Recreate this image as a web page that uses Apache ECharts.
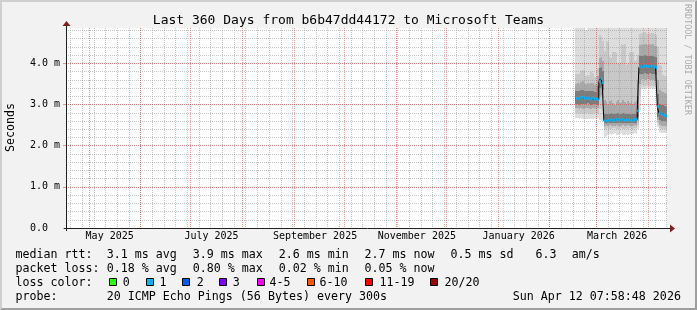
<!DOCTYPE html>
<html>
<head>
<meta charset="utf-8">
<script src="https://cdn.jsdelivr.net/npm/echarts@6/dist/echarts.min.js"></script>
<style>
html,body{margin:0;padding:0;background:#f2f2f2;}
#chart{width:697px;height:310px;}
</style>
</head>
<body>
<div id="chart"></div>
<script>
// ---------- data (one consolidated sample per day, centred at 12:00 UTC) ----------
const dates = [
 '2026-02-16','2026-02-17','2026-02-18','2026-02-19','2026-02-20','2026-02-21','2026-02-22',
 '2026-02-23','2026-02-24','2026-02-25','2026-02-26','2026-02-27','2026-02-28',
 '2026-03-01','2026-03-02','2026-03-03','2026-03-04','2026-03-05','2026-03-06','2026-03-07',
 '2026-03-08','2026-03-09','2026-03-10','2026-03-11','2026-03-12','2026-03-13','2026-03-14',
 '2026-03-15','2026-03-16','2026-03-17','2026-03-18','2026-03-19','2026-03-20','2026-03-21',
 '2026-03-22','2026-03-23','2026-03-24','2026-03-25','2026-03-26','2026-03-27','2026-03-28',
 '2026-03-29','2026-03-30','2026-03-31',
 '2026-04-01','2026-04-02','2026-04-03','2026-04-04','2026-04-05','2026-04-06','2026-04-07',
 '2026-04-08','2026-04-09','2026-04-10','2026-04-11'
];
// median rtt, ms
const median = [
 3.15,3.14,3.15,3.17,3.18,3.16,3.15,3.16,3.15,3.14,3.15,3.13,3.14,3.12,
 3.56,3.63,3.53,
 2.61,2.60,2.61,2.62,2.63,2.62,2.62,2.64,2.63,2.62,2.63,2.64,2.62,2.63,2.62,2.63,2.62,2.62,2.63,2.64,
 2.85,
 3.91,3.93,3.92,3.94,3.93,3.92,3.93,3.92,3.93,3.91,3.90,
 2.95,2.79,2.78,2.76,2.74,2.72
];
// smoke: slowest / fastest ping, ms
const maxPing = [
 5.62,5.18,6.05,5.40,5.95,5.22,4.81,5.36,5.71,5.08,5.49,5.87,5.13,5.66,
 6.20,5.92,5.55,
 5.34,5.78,6.12,5.47,5.25,5.90,5.61,5.38,6.03,5.19,5.72,5.44,5.85,5.28,5.97,5.53,5.16,5.69,5.41,5.82,
 5.95,
 6.15,5.58,5.31,5.89,5.46,6.02,5.24,5.77,5.39,5.93,5.65,
 5.74,5.12,5.36,5.05,4.98,5.21
];
const minPing = [
 2.67,2.67,2.66,2.67,2.64,2.64,2.65,2.65,2.66,2.64,2.65,2.67,2.66,2.68,
 2.62,2.60,2.58,
 2.22,2.24,2.27,2.29,2.26,2.28,2.30,2.27,2.25,2.28,2.30,2.27,2.26,2.29,2.27,2.28,2.26,2.29,2.30,2.28,
 2.40,
 2.87,3.38,3.40,3.37,3.39,3.40,3.38,3.39,3.37,3.39,3.36,
 2.46,2.33,2.31,2.30,2.32,2.34
];
// inner smoke bands, ms
const band2Hi = [
 3.74,3.74,3.75,3.82,3.83,3.81,3.70,3.71,3.69,3.78,3.77,3.66,3.67,3.90,
 4.70,4.65,4.55,
 4.30,4.55,4.52,4.15,4.13,4.27,4.28,4.25,3.98,3.99,4.47,4.45,4.48,3.97,3.99,4.27,4.26,4.28,4.07,4.08,
 4.20,
 4.72,4.75,4.73,4.76,4.74,4.72,4.75,4.73,4.74,4.71,4.70,
 4.40,3.95,3.93,3.72,3.70,3.68
];
const band2Lo = [
 2.79,2.80,2.78,2.79,2.77,2.78,2.79,2.80,2.78,2.77,2.79,2.80,2.79,2.80,
 2.90,2.88,2.85,
 2.40,2.41,2.42,2.40,2.41,2.42,2.43,2.41,2.40,2.42,2.43,2.41,2.40,2.42,2.41,2.42,2.40,2.41,2.43,2.42,
 2.50,
 3.20,3.46,3.47,3.45,3.46,3.47,3.45,3.46,3.44,3.45,3.43,
 2.55,2.42,2.41,2.40,2.41,2.42
];
const band3Hi = [
 3.50,3.52,3.51,3.55,3.56,3.53,3.50,3.52,3.51,3.53,3.52,3.48,3.49,3.70,
 4.12,4.15,4.05,
 3.10,3.05,3.02,3.08,3.12,3.04,3.00,3.06,3.10,3.03,3.07,3.12,3.05,3.01,3.08,3.04,3.09,3.02,3.06,3.10,
 3.60,
 4.45,4.47,4.44,4.48,4.46,4.45,4.47,4.44,4.46,4.43,4.42,
 3.60,3.35,3.33,3.30,3.28,3.26
];
const band3Lo = [
 2.91,2.92,2.90,2.91,2.89,2.90,2.91,2.92,2.90,2.89,2.91,2.92,2.90,2.92,
 3.20,3.22,3.15,
 2.48,2.48,2.49,2.50,2.49,2.48,2.49,2.50,2.49,2.48,2.49,2.50,2.48,2.49,2.50,2.49,2.48,2.49,2.50,2.49,
 2.60,
 3.50,3.60,3.61,3.59,3.60,3.61,3.60,3.59,3.60,3.58,3.57,
 2.62,2.50,2.49,2.48,2.48,2.47
];
const band4Hi = [
 3.32,3.33,3.32,3.35,3.36,3.34,3.32,3.33,3.32,3.33,3.33,3.30,3.31,3.45,
 3.88,3.92,3.82,
 2.78,2.76,2.77,2.78,2.79,2.77,2.76,2.78,2.79,2.77,2.78,2.79,2.77,2.76,2.78,2.77,2.78,2.76,2.77,2.79,
 3.20,
 4.17,4.19,4.18,4.20,4.19,4.18,4.19,4.17,4.18,4.16,4.15,
 3.25,3.02,3.00,2.98,2.96,2.94
];
const band4Lo = [
 3.01,3.02,3.00,3.02,3.01,3.00,3.02,3.03,3.01,3.00,3.02,3.01,3.01,3.00,
 3.40,3.42,3.35,
 2.54,2.53,2.54,2.55,2.55,2.54,2.55,2.56,2.55,2.54,2.55,2.56,2.54,2.55,2.54,2.55,2.54,2.55,2.55,2.56,
 2.70,
 3.75,3.75,3.74,3.76,3.75,3.74,3.76,3.75,3.74,3.75,3.73,
 2.70,2.62,2.61,2.60,2.59,2.58
];
// axis ticks / labels
const yTicks = [0, 1, 2, 3, 4];
const xLabels = ['May 2025', 'July 2025', 'September 2025', 'November 2025', 'January 2026', 'March 2026'];
const xLabelMonths = [[2025, 4], [2025, 6], [2025, 8], [2025, 10], [2026, 0], [2026, 2]];
// text
const titleText = 'Last 360 Days from b6b47dd44172 to Microsoft Teams';
const legendRtt = ['median rtt:', '3.1 ms avg', '3.9 ms max', '2.6 ms min', '2.7 ms now', '0.5 ms sd', '6.3', 'am/s'];
const legendLoss = ['packet loss:', '0.18 % avg', '0.80 % max', '0.02 % min', '0.05 % now'];
const legendColorTitle = 'loss color:';
const legendProbe = ['probe:', '20 ICMP Echo Pings (56 Bytes) every 300s'];
const lossLabels = ['0', '1', '2', '3', '4-5', '6-10', '11-19', '20/20'];
const lossColors = ['#26ff00', '#00b8ff', '#0059ff', '#7e00ff', '#ff00ff', '#ff5500', '#ff0000', '#a10000'];
const stampText = 'Sun Apr 12 07:58:48 2026';

// ---------- layout / style ----------
const W = 697, H = 310;
const GL = 66, GT = 28, GW = 601, GH = 200;
const GR = GL + GW, GB = GT + GH;
const DAY = 86400000;
const endTime = Date.UTC(2026, 3, 12, 7, 58, 48);
const startTime = endTime - 360 * DAY;
const yMax = 4.86;
const MONO = "'DejaVu Sans Mono', monospace";
const FONT_L = "11.65px 'DejaVu Sans Mono', monospace";
const bandColors = ['#dddddd', '#c8c8c8', '#a9a9a9', '#7c7c7c'];
const colX = [15.4, 106.7, 192.7, 278.7, 364.4, 450.4, 535.4, 571.7];
const rowY = [254.5, 268.5, 282.5, 296.5];
const boxX = [109, 146, 182, 219, 257, 307, 365, 430];
const boxLabelX = [122.7, 159.4, 196.7, 232.7, 269.4, 319.4, 379.4, 444.4];
const stampX = 512.7;

const times = dates.map(d => Date.parse(d + 'T12:00:00Z'));
const tEnd = times.map((t, i) => i + 1 < times.length ? times[i + 1] : endTime);

// grid positions
const weekTicks = [];
for (let t = Date.UTC(2025, 3, 20); t <= endTime; t += 7 * DAY) weekTicks.push(t);
const monthTicks = [];
for (let m = 0; m < 12; m++) monthTicks.push(Date.UTC(2025, 4 + m, 1));
const labelPos = xLabelMonths.map(([y, m]) => Date.UTC(y, m, 1) + 12.5 * DAY);
const minorY = [];
for (let i = 1; i <= 24; i++) minorY.push(Math.round(i * 2) / 10);

function bandData(lo, hi) { return times.map((t, i) => [t, tEnd[i], lo[i], hi[i]]); }
function bandRender(color) {
  return function (params, api) {
    const a = api.coord([api.value(0), api.value(3)]);
    const b = api.coord([api.value(1), api.value(2)]);
    const cs = params.coordSys;
    const x0 = Math.round(a[0]), x1 = Math.round(b[0]);
    const top = Math.max(Math.round(a[1]), cs.y);
    const bottom = Math.min(Math.round(b[1]), cs.y + cs.height);
    if (bottom <= top || x1 <= x0) return null;
    return { type: 'rect', shape: { x: x0, y: top, width: x1 - x0, height: bottom - top }, style: { fill: color } };
  };
}
const bands = [[minPing, maxPing], [band2Lo, band2Hi], [band3Lo, band3Hi], [band4Lo, band4Hi]];
const series = bands.map((b, i) => ({
  type: 'custom', silent: true, z: 1,
  xAxisIndex: 0, yAxisIndex: 0,
  encode: { x: [0, 1], y: [2, 3] },
  renderItem: bandRender(bandColors[i]),
  data: bandData(b[0], b[1])
}));
series.push({
  type: 'line', silent: true, z: 5, step: 'end', symbol: 'none',
  xAxisIndex: 0, yAxisIndex: 0,
  lineStyle: { color: '#000000', width: 1 },
  data: times.map((t, i) => [t, median[i]]).concat([[endTime, median[median.length - 1]]])
});
series.push({
  type: 'custom', silent: true, z: 6,
  xAxisIndex: 0, yAxisIndex: 0,
  encode: { x: [0, 1], y: 2 },
  renderItem: function (params, api) {
    const a = api.coord([api.value(0), api.value(2)]);
    const b = api.coord([api.value(1), api.value(2)]);
    return { type: 'line', shape: { x1: a[0], y1: a[1], x2: b[0], y2: b[1] }, style: { stroke: '#00b8ff', lineWidth: 2.5 } };
  },
  data: times.map((t, i) => [t, tEnd[i], median[i]])
});

// ---------- decorations ----------
const g = [];
g.push({ type: 'polygon', silent: true, z: 20, shape: { points: [[0, 0], [W, 0], [W - 2, 2], [2, 2], [2, H - 2], [0, H]] }, style: { fill: '#cfcfcf' } });
g.push({ type: 'polygon', silent: true, z: 20, shape: { points: [[W, 0], [W, H], [0, H], [2, H - 2], [W - 2, H - 2], [W - 2, 2]] }, style: { fill: '#9e9e9e' } });
g.push({ type: 'line', silent: true, z: 20, shape: { x1: GL - 2, y1: GB + 0.5, x2: GR + 4, y2: GB + 0.5 }, style: { stroke: '#1f1f1f', lineWidth: 1 } });
g.push({ type: 'line', silent: true, z: 20, shape: { x1: GL + 0.5, y1: GB + 3, x2: GL + 0.5, y2: GT - 2 }, style: { stroke: '#1f1f1f', lineWidth: 1 } });
g.push({ type: 'polygon', silent: true, z: 21, shape: { points: [[GR + 3, GB - 3.5], [GR + 8, GB + 0.5], [GR + 3, GB + 4.5]] }, style: { fill: '#801f1f' } });
g.push({ type: 'polygon', silent: true, z: 21, shape: { points: [[GL - 3.5, GT - 2], [GL + 0.5, GT - 7], [GL + 4.5, GT - 2]] }, style: { fill: '#801f1f' } });
g.push({ type: 'text', silent: true, z: 20, x: 687.5, y: 4, rotation: -Math.PI / 2,
  style: { text: 'RRDTOOL / TOBI OETIKER', font: "8.4px 'DejaVu Sans Mono', monospace", fill: '#aaaaaa', align: 'left', verticalAlign: 'middle' } });
g.push({ type: 'text', silent: true, z: 20, x: 11, y: 127.5, rotation: Math.PI / 2,
  style: { text: 'Seconds', font: FONT_L, fill: '#000', align: 'center', verticalAlign: 'middle' } });
function txt(s, x, y) {
  g.push({ type: 'text', silent: true, z: 20, x: x, y: y,
    style: { text: s, font: FONT_L, fill: '#000', align: 'left', verticalAlign: 'middle' } });
}
legendRtt.forEach((s, i) => txt(s, colX[i], rowY[0]));
legendLoss.forEach((s, i) => txt(s, colX[i], rowY[1]));
txt(legendColorTitle, colX[0], rowY[2]);
lossLabels.forEach((lab, i) => {
  g.push({ type: 'rect', silent: true, z: 20, shape: { x: boxX[i] + 0.5, y: 278.5, width: 7, height: 7 }, style: { fill: lossColors[i], stroke: '#000', lineWidth: 1 } });
  txt(lab, boxLabelX[i], rowY[2]);
});
legendProbe.forEach((s, i) => txt(s, colX[i], rowY[3]));
txt(stampText, stampX, rowY[3]);

const gridMinor = { show: true, lineStyle: { color: 'rgba(143,143,143,0.5)', width: 1, type: [1, 1] } };
const gridMajor = { show: true, lineStyle: { color: 'rgba(222,79,79,0.6)', width: 1, type: [1, 1] } };

const option = {
  animation: false,
  backgroundColor: '#f2f2f2',
  title: { text: titleText, left: 'center', top: 9, padding: 5,
    textStyle: { fontFamily: MONO, fontSize: 13, fontWeight: 'normal', color: '#000' } },
  grid: { left: GL, top: GT, width: GW, height: GH, show: true, backgroundColor: '#ffffff', borderWidth: 0,
    containLabel: false, outerBoundsMode: 'none' },
  xAxis: [
    { type: 'value', min: startTime, max: endTime, position: 'bottom', z: 3,
      axisLine: { show: false }, axisTick: { show: false, customValues: weekTicks },
      axisLabel: { show: false }, splitLine: gridMinor },
    { type: 'value', min: startTime, max: endTime, position: 'bottom', z: 4,
      axisLine: { show: false }, axisTick: { show: false, customValues: monthTicks },
      axisLabel: { show: true, customValues: labelPos, margin: 3, fontFamily: MONO, fontSize: 10, color: '#000',
        formatter: v => { const i = labelPos.indexOf(v); return i < 0 ? '' : xLabels[i]; } },
      splitLine: gridMajor }
  ],
  yAxis: [
    { type: 'value', min: 0, max: yMax, position: 'left', z: 3,
      axisLine: { show: false }, axisTick: { show: false, customValues: minorY },
      axisLabel: { show: false }, splitLine: gridMinor },
    { type: 'value', min: 0, max: yMax, position: 'left', z: 4,
      axisLine: { show: false },
      axisTick: { show: true, customValues: yTicks, length: 3, lineStyle: { color: 'rgba(222,79,79,0.6)' } },
      axisLabel: { show: true, customValues: yTicks, margin: 6, fontFamily: MONO, fontSize: 10, color: '#000',
        formatter: v => v === 0 ? '0.0  ' : v.toFixed(1) + ' m' },
      splitLine: gridMajor }
  ],
  series: series,
  graphic: { elements: g }
};
const chart = echarts.init(document.getElementById('chart'), null, { renderer: 'canvas' });
chart.setOption(option);
</script>
</body>
</html>
